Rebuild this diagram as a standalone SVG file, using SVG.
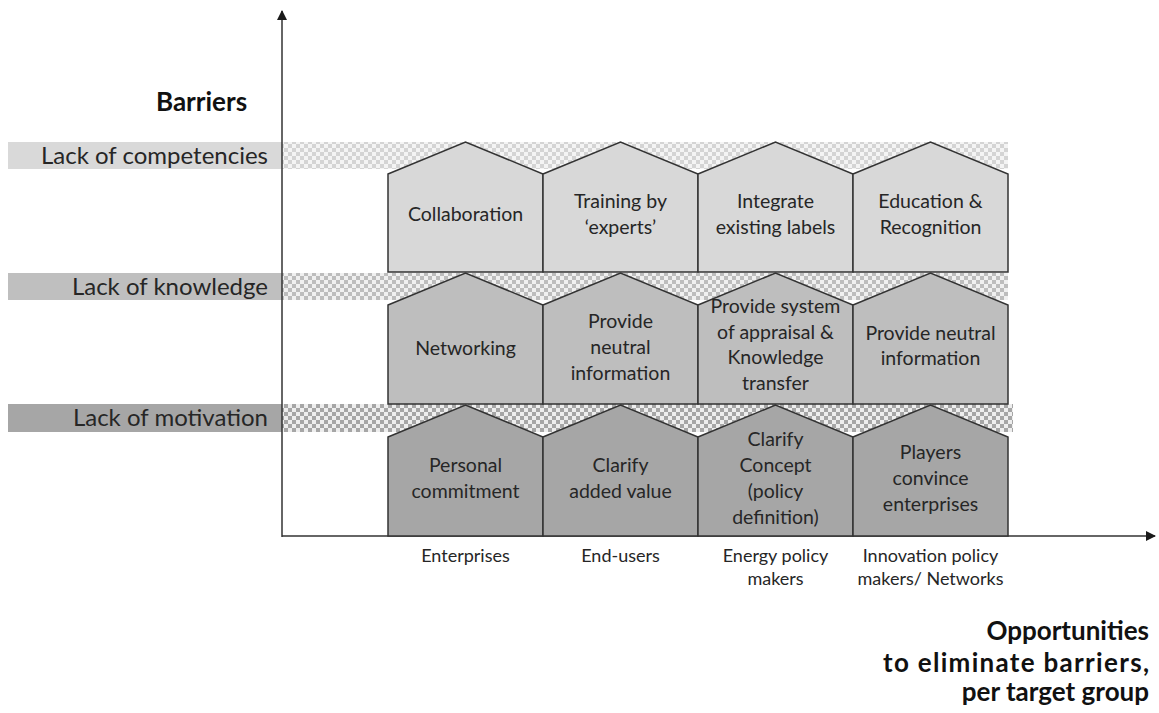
<svg xmlns="http://www.w3.org/2000/svg" width="1159" height="713" viewBox="0 0 1159 713">
<defs>
<pattern id="chk1" width="8" height="8" patternUnits="userSpaceOnUse"><rect width="8" height="8" fill="#f4f4f4"/><rect width="4" height="4" fill="#d4d4d4"/><rect x="4" y="4" width="4" height="4" fill="#d4d4d4"/></pattern>
<pattern id="chk2" width="8" height="8" patternUnits="userSpaceOnUse"><rect width="8" height="8" fill="#f0f0f0"/><rect width="4" height="4" fill="#bdbdbd"/><rect x="4" y="4" width="4" height="4" fill="#bdbdbd"/></pattern>
<pattern id="chk3" width="8" height="8" patternUnits="userSpaceOnUse"><rect width="8" height="8" fill="#eeeeee"/><rect width="4" height="4" fill="#a6a6a6"/><rect x="4" y="4" width="4" height="4" fill="#a6a6a6"/></pattern>
<marker id="arr" markerWidth="10" markerHeight="10" refX="9" refY="5" orient="auto" markerUnits="userSpaceOnUse"><path d="M0,0 L10,5 L0,10 Z" fill="#1a1a1a"/></marker>
</defs>
<style>
text{font-family:Lato,"Open Sans","Liberation Sans",sans-serif;fill:#262626}
.lab{font-size:24px;text-anchor:end}
.h{font-size:19.5px;text-anchor:middle}
.ax{font-size:18px;text-anchor:middle}
.b{font-size:26px;font-weight:bold;fill:#111}
.house{stroke:#333;stroke-width:1.5;stroke-linejoin:miter}
.r1{fill:#d8d8d8}.r2{fill:#bebebe}.r3{fill:#a6a6a6}
</style>
<rect width="1159" height="713" fill="#fff"/>
<g id="bars">
<rect x="8" y="142" width="274" height="27" fill="#d9d9d9"/>
<rect x="282" y="142" width="726" height="27" fill="url(#chk1)"/>
<rect x="8" y="273" width="274" height="27" fill="#bfbfbf"/>
<rect x="282" y="273" width="726" height="27" fill="url(#chk2)"/>
<rect x="8" y="404" width="274" height="28" fill="#a6a6a6"/>
<rect x="282" y="404" width="731" height="28" fill="url(#chk3)"/>
<text class="lab" x="268" y="164">Lack of competencies</text>
<text class="lab" x="268" y="295">Lack of knowledge</text>
<text class="lab" x="268" y="426">Lack of motivation</text>
</g>
<g id="connectors" stroke="#333" stroke-width="1.5" fill="none">
<line x1="282" y1="537" x2="282" y2="11" marker-end="url(#arr)"/>
<line x1="282" y1="536" x2="1155" y2="536" marker-end="url(#arr)"/>
</g>
<g id="row1">
<g id="collaboration"><path class="house r1" d="M388,174 L465.5,142 L543,174 L543,272 L388,272 Z"/><text class="h" x="465.5" y="221">Collaboration</text></g>
<g id="training"><path class="house r1" d="M543,174 L620.5,142 L698,174 L698,272 L543,272 Z"/><text class="h" x="620.5" y="208">Training by</text><text class="h" x="620.5" y="234">‘experts’</text></g>
<g id="integrate"><path class="house r1" d="M698,174 L775.5,142 L853,174 L853,272 L698,272 Z"/><text class="h" x="775.5" y="208">Integrate</text><text class="h" x="775.5" y="234">existing labels</text></g>
<g id="education"><path class="house r1" d="M853,174 L930.5,142 L1008,174 L1008,272 L853,272 Z"/><text class="h" x="930.5" y="208">Education &amp;</text><text class="h" x="930.5" y="234">Recognition</text></g>
</g>
<g id="row2">
<g id="networking"><path class="house r2" d="M388,305 L465.5,273 L543,305 L543,404 L388,404 Z"/><text class="h" x="465.5" y="355">Networking</text></g>
<g id="neutral1"><path class="house r2" d="M543,305 L620.5,273 L698,305 L698,404 L543,404 Z"/><text class="h" x="620.5" y="328">Provide</text><text class="h" x="620.5" y="354">neutral</text><text class="h" x="620.5" y="380">information</text></g>
<g id="appraisal"><path class="house r2" d="M698,305 L775.5,273 L853,305 L853,404 L698,404 Z"/><text class="h" x="775.5" y="313">Provide system</text><text class="h" x="775.5" y="339">of appraisal &amp;</text><text class="h" x="775.5" y="364">Knowledge</text><text class="h" x="775.5" y="390">transfer</text></g>
<g id="neutral2"><path class="house r2" d="M853,305 L930.5,273 L1008,305 L1008,404 L853,404 Z"/><text class="h" x="930.5" y="340">Provide neutral</text><text class="h" x="930.5" y="365">information</text></g>
</g>
<g id="row3">
<g id="personal"><path class="house r3" d="M388,437 L465.5,405 L543,437 L543,536 L388,536 Z"/><text class="h" x="465.5" y="472">Personal</text><text class="h" x="465.5" y="498">commitment</text></g>
<g id="addedvalue"><path class="house r3" d="M543,437 L620.5,405 L698,437 L698,536 L543,536 Z"/><text class="h" x="620.5" y="472">Clarify</text><text class="h" x="620.5" y="498">added value</text></g>
<g id="concept"><path class="house r3" d="M698,437 L775.5,405 L853,437 L853,536 L698,536 Z"/><text class="h" x="775.5" y="446">Clarify</text><text class="h" x="775.5" y="472">Concept</text><text class="h" x="775.5" y="498">(policy</text><text class="h" x="775.5" y="524">definition)</text></g>
<g id="players"><path class="house r3" d="M853,437 L930.5,405 L1008,437 L1008,536 L853,536 Z"/><text class="h" x="930.5" y="459">Players</text><text class="h" x="930.5" y="485">convince</text><text class="h" x="930.5" y="511">enterprises</text></g>
</g>
<g id="axis-labels">
<text class="ax" x="465.5" y="562">Enterprises</text>
<text class="ax" x="620.5" y="562">End-users</text>
<text class="ax" x="775.5" y="562">Energy policy</text>
<text class="ax" x="775.5" y="585">makers</text>
<text class="ax" x="930.5" y="562">Innovation policy</text>
<text class="ax" x="930.5" y="585">makers/ Networks</text>
</g>
<g id="titles">
<text class="b" x="156" y="111">Barriers</text>
<text class="b" x="1149" y="640" text-anchor="end">Opportunities</text>
<text class="b" x="1149" y="672" text-anchor="end" textLength="266" lengthAdjust="spacing">to eliminate barriers,</text>
<text class="b" x="1149" y="701" text-anchor="end">per target group</text>
</g>
</svg>
